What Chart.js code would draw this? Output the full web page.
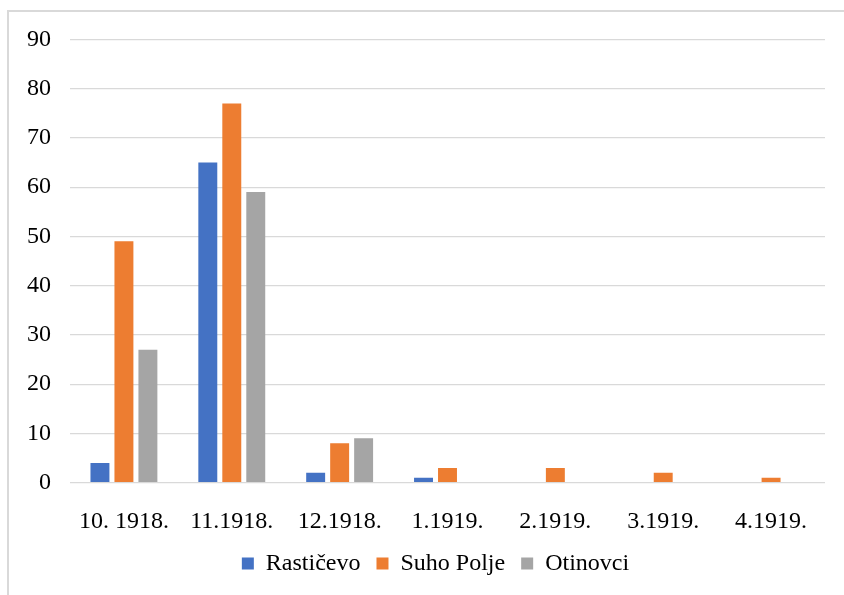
<!DOCTYPE html>
<html>
<head>
<meta charset="utf-8">
<script src="https://cdn.jsdelivr.net/npm/chart.js@4/dist/chart.umd.min.js"></script>
<style>
  html, body { margin: 0; padding: 0; background: #fff; overflow: hidden; }
  #frame {
    position: absolute; left: 7px; top: 10px; width: 900px; height: 700px;
    border-left: 2px solid #d9d9d9; border-top: 2px solid #d9d9d9;
  }
  #chart { position: absolute; left: 9px; top: 6px; display: block; }
</style>
</head>
<body>
<div id="frame"></div>
<canvas id="chart" width="853" height="589"></canvas>
<script>
// PODACI
const mjeseci = ['10. 1918.', '11.1918.', '12.1918.', '1.1919.', '2.1919.', '3.1919.', '4.1919.'];
const rasticevo = [4, 65, 2, 1, 0, 0, 0];
const suhoPolje = [49, 77, 8, 3, 3, 2, 1];
const otinovci = [27, 59, 9, 0, 0, 0, 0];
const yMin = 0, yMax = 90, yStep = 10;

const font = { family: '"Liberation Serif", "Times New Roman", serif', size: 24 };

// legenda je u originalu centrirana na cijeli (širi) okvir, pa je malo pomaknemo
const pomakLegende = {
  id: 'pomakLegende',
  afterLayout(chart) {
    chart.legend.left += 9.5;
    chart.legend.right += 9.5;
  }
};

// GRAFIKON
const ctx = document.getElementById('chart').getContext('2d');
new Chart(ctx, {
  type: 'bar',
  data: {
    labels: mjeseci,
    datasets: [
      { label: 'Rastičevo', data: rasticevo, backgroundColor: '#4472C4' },
      { label: 'Suho Polje', data: suhoPolje, backgroundColor: '#ED7D31' },
      { label: 'Otinovci', data: otinovci, backgroundColor: '#A5A5A5' }
    ]
  },
  options: {
    responsive: false,
    animation: false,
    datasets: { bar: { categoryPercentage: 0.667, barPercentage: 0.79 } },
    layout: { padding: { left: 18, right: 37, top: 20, bottom: 9.5 } },
    plugins: {
      legend: {
        position: 'bottom',
        labels: { font: font, color: '#000', boxWidth: 12, boxHeight: 12, padding: 16 }
      },
      tooltip: { enabled: false }
    },
    scales: {
      x: {
        grid: { display: false },
        border: { display: false },
        ticks: { font: font, color: '#000', padding: 17, maxRotation: 0 },
        afterFit: (s) => { s.height = 52.8; }
      },
      y: {
        min: yMin,
        max: yMax,
        grid: { color: '#d9d9d9', lineWidth: 1.3, drawTicks: false },
        border: { display: false },
        ticks: { font: font, color: '#000', stepSize: yStep, padding: 19 },
        afterFit: (s) => { s.width = 43; }
      }
    }
  },
  plugins: [pomakLegende]
});
</script>
</body>
</html>
